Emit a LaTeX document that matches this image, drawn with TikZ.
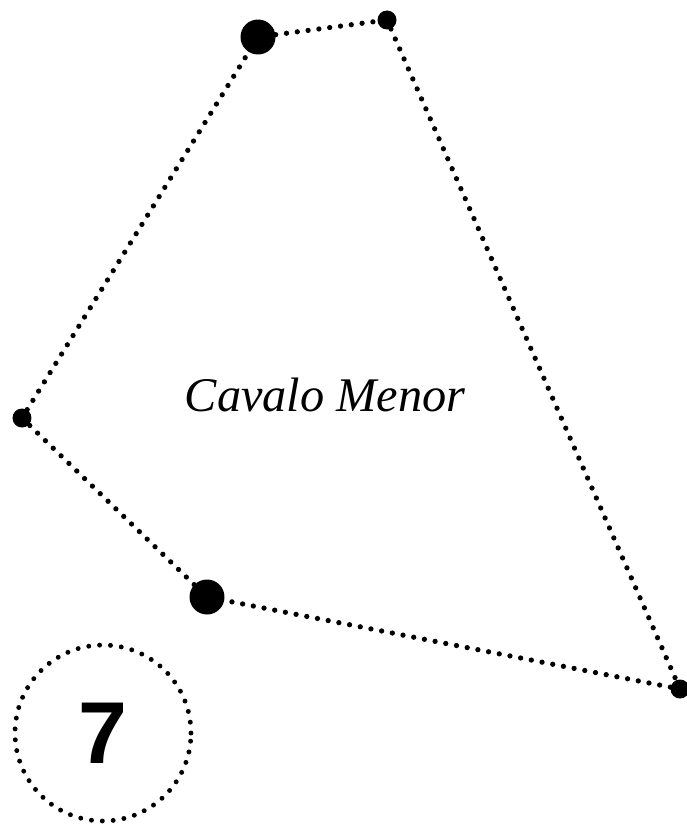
\documentclass[tikz,border=0pt]{standalone}
\usepackage{fontspec}
\setmainfont{Liberation Serif}[ItalicFont={Liberation Serif Italic}]
\newfontfamily\numfont{Liberation Sans}
\begin{document}
\begin{tikzpicture}[x=0.02cm, y=-0.02cm,
		bigstar/.style={circle, fill=black, inner sep=0pt, minimum size=0.7cm},
		smallstar/.style={circle, fill=black, inner sep=0pt, minimum size=0.38cm},
		dotline/.style={line width=3pt, line cap=round, dash pattern=on 0pt off 6.2pt}]
			\useasboundingbox (0,0) rectangle (686,824);
			
			% Estrelas
			\node[bigstar] (s1) at (258,37) {};
			\node[smallstar] (s2) at (387,20) {};
			\node[smallstar] (s3) at (22,418) {};
			\node[bigstar] (s4) at (207,597) {};
			\node[smallstar] (s5) at (680,689) {};
			
			\draw[dotline] (s1) -- (s2) -- (s5) -- (s4) -- (s3) -- (s1);
			
			\node[anchor=base, inner sep=0pt, font=\itshape\fontsize{27.5}{31}\selectfont] (nome) at (325,411) {Cavalo Menor};
			
			\node[circle, draw, dotline, line width=2.8pt, minimum size=3.52cm, inner sep=0pt,
				font=\numfont\bfseries\fontsize{50}{50}\selectfont] (num) at (103,733) {7};
		\end{tikzpicture}
\end{document}
